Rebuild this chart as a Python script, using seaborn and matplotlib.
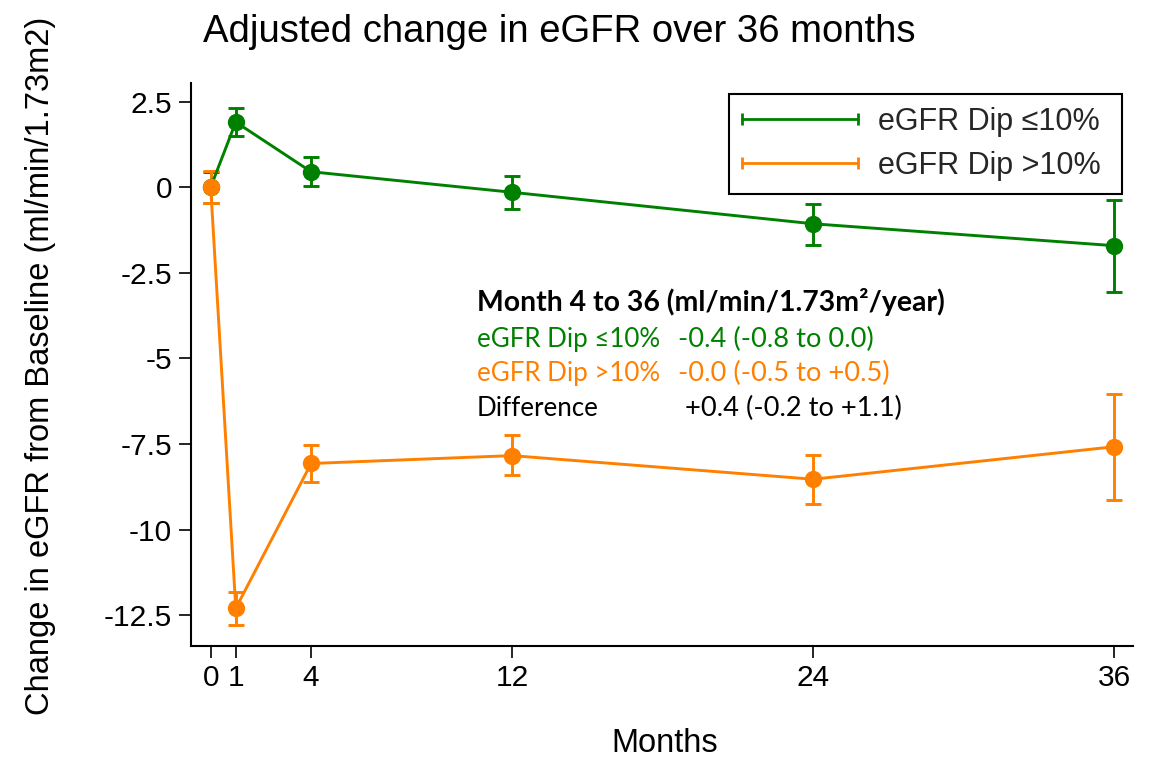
import matplotlib

matplotlib.use("Agg")
import matplotlib.pyplot as plt
import pandas as pd
import seaborn as sns
from matplotlib.legend_handler import HandlerLine2D
from matplotlib.lines import Line2D

# Values (adjusted mean change and 95% CI)
months = [0, 1, 4, 12, 24, 36]
dip_low_mean = [0.0, 1.90, 0.45, -0.15, -1.07, -1.71]
dip_low_lo = [-0.45, 1.49, 0.02, -0.65, -1.69, -3.05]
dip_low_hi = [0.45, 2.31, 0.88, 0.33, -0.49, -0.37]
dip_high_mean = [0.0, -12.30, -8.07, -7.84, -8.53, -7.58]
dip_high_lo = [-0.47, -12.80, -8.61, -8.42, -9.24, -9.15]
dip_high_hi = [0.47, -11.81, -7.52, -7.24, -7.82, -6.05]

group_labels = ["eGFR Dip \u226410%", "eGFR Dip >10%"]
y_ticks = [2.5, 0, -2.5, -5, -7.5, -10, -12.5]
y_tick_labels = ["2.5", "0", "-2.5", "-5", "-7.5", "-10", "-12.5"]

slope_header = "Month 4 to 36 (ml/min/1.73m\u00b2/year)"
slope_rows = [
    ("eGFR Dip \u226410%", "-0.4 (-0.8 to 0.0)"),
    ("eGFR Dip >10%", "-0.0 (-0.5 to +0.5)"),
    ("Difference", "+0.4 (-0.2 to +1.1)"),
]

GREEN = "#008000"
ORANGE = "#ff8000"
palette = {group_labels[0]: GREEN, group_labels[1]: ORANGE}

df = pd.concat(
    [
        pd.DataFrame(
            {"month": months, "change": dip_low_mean, "lo": dip_low_lo,
             "hi": dip_low_hi, "group": group_labels[0]}
        ),
        pd.DataFrame(
            {"month": months, "change": dip_high_mean, "lo": dip_high_lo,
             "hi": dip_high_hi, "group": group_labels[1]}
        ),
    ],
    ignore_index=True,
)

sns.set_theme(style="ticks")
plt.rcParams["font.family"] = ["Liberation Sans", "DejaVu Sans"]

fig = plt.figure(figsize=(11.56, 7.58), dpi=100)
ax = fig.add_axes([0.1652, 0.1482, 0.8149, 0.7427])

# confidence intervals first so the points sit on top
for grp in group_labels:
    sub = df[df["group"] == grp]
    ax.errorbar(
        sub["month"], sub["change"],
        yerr=[sub["change"] - sub["lo"], sub["hi"] - sub["change"]],
        fmt="none", ecolor=palette[grp], elinewidth=2.1, capsize=5.8, capthick=2.1,
        zorder=2,
    )

sns.lineplot(
    data=df, x="month", y="change", hue="group", palette=palette,
    marker="o", markersize=12.5, markeredgewidth=0, linewidth=2.1,
    legend=False, ax=ax, zorder=3,
)

ax.set_xlim(-0.785, 36.74)
ax.set_ylim(-13.39, 3.05)
ax.set_xticks(months)
ax.set_yticks(y_ticks)
ax.set_yticklabels(y_tick_labels)
ax.tick_params(axis="both", labelsize=21.5, length=8.5, width=1.2, color="black",
               labelcolor="black", pad=5)
sns.despine(ax=ax)
for side in ("left", "bottom"):
    ax.spines[side].set_linewidth(1.5)
    ax.spines[side].set_color("black")

ax.set_xlabel("Months", fontsize=23.5, color="black")
ax.xaxis.set_label_coords(0.503, -0.1746)
ax.xaxis.label.set_va("center")
ax.set_ylabel("Change in eGFR from Baseline (ml/min/1.73m2)", fontsize=23.5,
              color="black")
ax.yaxis.set_label_coords(-0.160, 0.497)
ax.yaxis.label.set_va("center")

fig.text(203 / 1156, 1 - 32 / 758, "Adjusted change in eGFR over 36 months",
         fontsize=27.5, ha="left", va="center", color="black")

# legend with horizontal capped lines
handles = [
    Line2D([], [], color=palette[g], linewidth=2.0, marker="|", markersize=8.5,
           markeredgewidth=2.0)
    for g in group_labels
]
leg = ax.legend(
    handles, [g + " " for g in group_labels], loc="upper right",
    bbox_to_anchor=(0.9883, 0.9794),
    borderaxespad=0, fontsize=22, numpoints=2, handlelength=3.8,
    handletextpad=0.65, labelspacing=0.46, borderpad=0.42, fancybox=False,
    framealpha=1, edgecolor="black",
    handler_map={Line2D: HandlerLine2D(marker_pad=0)},
)
leg.get_frame().set_linewidth(1.5)
for txt in leg.get_texts():
    txt.set_fontfamily(["Liberation Sans", "DejaVu Sans"])

# slope summary box
note_font = ["Lato", "DejaVu Sans"]
ax.text(0.3036, 0.6105, slope_header, transform=ax.transAxes, fontsize=20.4,
        fontweight="bold", family=note_font, ha="left", va="center", color="black")
row_colors = [GREEN, ORANGE, "black"]
row_y = [0.5440, 0.4830, 0.4220]
second_x = [0.5170, 0.5170, 0.5240]
for (name, value), col, yy, x2 in zip(slope_rows, row_colors, row_y, second_x):
    ax.text(0.3036, yy, name, transform=ax.transAxes, fontsize=18.6,
            family=note_font, ha="left", va="center", color=col)
    ax.text(x2, yy, value, transform=ax.transAxes, fontsize=19.6,
            family=note_font, ha="left", va="center", color=col)

fig.savefig("out.png", dpi=100)
plt.close(fig)
